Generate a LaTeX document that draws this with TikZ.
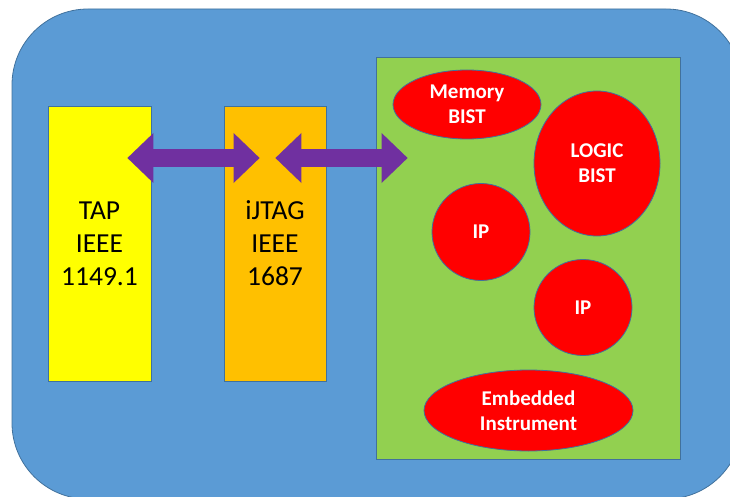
\documentclass[tikz,border=0pt]{standalone}
\usepackage{fontspec}
\setmainfont{Carlito}
\usetikzlibrary{shapes.geometric,arrows.meta,calc}
\definecolor{bgblue}{HTML}{5B9BD5}
\definecolor{edgeblue}{HTML}{41719C}
\definecolor{tapyellow}{HTML}{FFFF00}
\definecolor{jtagorange}{HTML}{FFC000}
\definecolor{instgreen}{HTML}{92D050}
\definecolor{busviolet}{HTML}{7030A0}
\begin{document}
\begin{tikzpicture}[x=1pt,y=-1pt,
    stdbox/.style={draw=edgeblue,line width=0.8pt,inner sep=0pt,align=center,
        minimum height=275pt,font=\fontsize{27.5}{33}\selectfont},
    blob/.style={ellipse,draw=edgeblue,line width=0.8pt,fill=red,inner sep=0pt,
        text=white,align=center,font=\bfseries\fontsize{21}{25}\selectfont},
    bus/.style={busviolet,line width=18pt,
        >={Triangle[length=26pt,width=50pt,line width'=0pt]},<->}]
    \useasboundingbox (0,0) rectangle (730,497);
    \clip (0,0) rectangle (730,497);
    % board
    \filldraw[fill=bgblue,draw=edgeblue,line width=0.8pt,rounded corners=76pt]
        (12,9) rectangle (742,499);
    \node[stdbox,fill=tapyellow,minimum width=103pt] (tap) at (99.5,243.5) {TAP\\IEEE\\1149.1};
    \node[stdbox,fill=jtagorange,minimum width=102pt] (ijtag) at (275,243.5) {iJTAG\\IEEE\\1687};
    \node[draw=edgeblue,line width=0.8pt,fill=instgreen,minimum width=304pt,minimum height=402pt] (chip) at (528,258) {};
    % instruments
    \node[blob,minimum width=148pt,minimum height=69pt] (mbist) at (467,104.5) {Memory\\BIST};
    \node[blob,minimum width=126pt,minimum height=145pt] (lbist) at (597,163.5) {LOGIC\\BIST};
    \node[blob,minimum width=98pt,minimum height=97pt] (ipa) at (481,232) {IP};
    \node[blob,minimum width=98pt,minimum height=96pt] (ipb) at (583,307.5) {IP};
    \node[blob,minimum width=209pt,minimum height=81pt] (emb) at (528.5,410.5) {Embedded\\Instrument};
    % buses
    \coordinate (busy) at (0,158);
    \draw[bus] ($(tap.east |- busy)+(-24,0)$) -- ($(ijtag.west |- busy)+(36,0)$);
    \draw[bus] ($(ijtag.east |- busy)+(-51,0)$) -- ($(chip.west |- busy)+(32,0)$);
\end{tikzpicture}
\end{document}
